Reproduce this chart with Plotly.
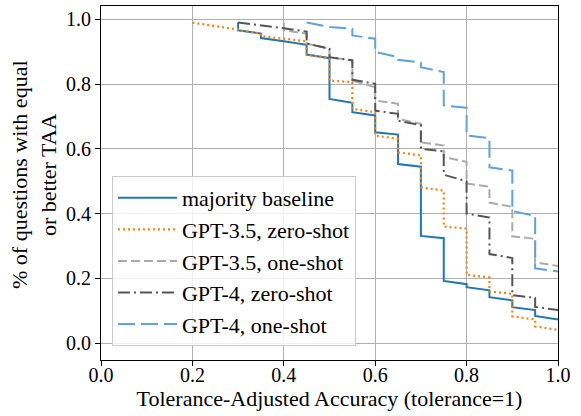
import plotly.graph_objects as go

# ---- data ----
series_names = ["majority baseline", "GPT-3.5, zero-shot", "GPT-3.5, one-shot",
                "GPT-4, zero-shot", "GPT-4, one-shot"]

# each series: TAA step positions, value arriving at the step, value after the drop
baseline_x = [0.3, 0.35, 0.4, 0.45, 0.5, 0.55, 0.6, 0.65, 0.7, 0.75, 0.8, 0.85, 0.9, 0.95, 1.0]
baseline_top = [0.99, 0.956, 0.932, 0.921, 0.880, 0.742, 0.703, 0.644, 0.545, 0.324, 0.182, 0.163, 0.132, 0.102, 0.073]
baseline_bot = [0.966, 0.942, 0.932, 0.891, 0.754, 0.713, 0.651, 0.553, 0.331, 0.192, 0.173, 0.142, 0.111, 0.084, 0.073]

gpt35_zero_x = [0.2, 0.25, 0.3, 0.35, 0.4, 0.45, 0.5, 0.55, 0.6, 0.65, 0.7, 0.75, 0.8, 0.85, 0.9, 0.95, 1.0]
gpt35_zero_top = [0.99, 0.98, 0.968, 0.956, 0.94, 0.932, 0.880, 0.806, 0.713, 0.631, 0.58, 0.471, 0.354, 0.203, 0.152, 0.073, 0.041]
gpt35_zero_bot = [0.99, 0.98, 0.966, 0.948, 0.94, 0.891, 0.811, 0.7235, 0.641, 0.589, 0.481, 0.36, 0.211, 0.16, 0.083, 0.052, 0.041]

gpt35_one_x = [0.4, 0.45, 0.5, 0.55, 0.6, 0.65, 0.7, 0.75, 0.8, 0.85, 0.9, 0.95, 1.0]
gpt35_one_top = [0.99, 0.955, 0.909, 0.873, 0.790, 0.739, 0.677, 0.61, 0.56, 0.483, 0.421, 0.322, 0.238]
gpt35_one_bot = [0.966, 0.925, 0.883, 0.811, 0.749, 0.6925, 0.62, 0.574, 0.493, 0.434, 0.33, 0.25, 0.238]

gpt4_zero_x = [0.3, 0.35, 0.4, 0.45, 0.5, 0.55, 0.6, 0.65, 0.7, 0.75, 0.8, 0.85, 0.9, 0.95, 1.0]
gpt4_zero_top = [0.99, 0.982, 0.972, 0.962, 0.909, 0.873, 0.801, 0.708, 0.673, 0.592, 0.50, 0.388, 0.263, 0.14, 0.102]
gpt4_zero_bot = [0.99, 0.982, 0.972, 0.925, 0.883, 0.813, 0.718, 0.687, 0.60, 0.52, 0.40, 0.275, 0.148, 0.112, 0.102]

gpt4_one_x = [0.45, 0.5, 0.55, 0.6, 0.65, 0.7, 0.75, 0.8, 0.85, 0.9, 0.95, 1.0]
gpt4_one_top = [0.99, 0.976, 0.971, 0.94, 0.883, 0.866, 0.837, 0.727, 0.633, 0.533, 0.393, 0.221]
gpt4_one_bot = [0.99, 0.976, 0.95, 0.899, 0.875, 0.852, 0.734, 0.641, 0.543, 0.408, 0.231, 0.221]

tick_vals = [0.0, 0.2, 0.4, 0.6, 0.8, 1.0]
tick_text = ["0.0", "0.2", "0.4", "0.6", "0.8", "1.0"]

x_title = "Tolerance-Adjusted Accuracy (tolerance=1)"
y_title = "% of questions with equal<br>or better TAA"

# ---- styles ----
styles = [
    dict(color="#1f77b4", width=2, dash="solid"),
    dict(color="#ff7f0e", width=2.2, dash="2px,3px"),
    dict(color="#aaaaaa", width=2, dash="9px,4px"),
    dict(color="#555555", width=2, dash="12px,4px,2px,4px"),
    dict(color="#5fa2dd", width=2, dash="17px,6px"),
]

def staircase(xs, top, bot):
    px, py = [], []
    for x, t, b in zip(xs, top, bot):
        px += [x, x]
        py += [t, b]
    return px, py

data = [
    (baseline_x, baseline_top, baseline_bot),
    (gpt35_zero_x, gpt35_zero_top, gpt35_zero_bot),
    (gpt35_one_x, gpt35_one_top, gpt35_one_bot),
    (gpt4_zero_x, gpt4_zero_top, gpt4_zero_bot),
    (gpt4_one_x, gpt4_one_top, gpt4_one_bot),
]

FONT = "Liberation Serif"

fig = go.Figure()
for i, (name, (xs, top, bot), st) in enumerate(zip(series_names, data, styles)):
    px, py = staircase(xs, top, bot)
    fig.add_trace(go.Scatter(x=px, y=py, mode="lines", name=name,
                             legendgroup=f"g{i}", line=st))

axis_common = dict(
    showline=True, mirror=True, linecolor="black", linewidth=1.2,
    showgrid=True, gridcolor="#b0b0b0", gridwidth=1,
    ticks="outside", ticklen=5, tickwidth=1.2, tickcolor="black",
    tickvals=tick_vals, ticktext=tick_text,
    tickfont=dict(family=FONT, size=20, color="black"),
    zeroline=False,
)

fig.update_layout(
    width=581, height=416,
    margin=dict(l=101, r=23, t=6, b=56),
    paper_bgcolor="white", plot_bgcolor="white",
    font=dict(family=FONT, color="black"),
    xaxis=dict(range=[0, 1], ticklabelstandoff=-8,
               title=dict(text=x_title, font=dict(family=FONT, size=22), standoff=2),
               **axis_common),
    yaxis=dict(range=[-0.052, 1.041], **axis_common),
    legend=dict(x=0.024, y=0.52, xanchor="left", yanchor="top",
                bgcolor="rgba(255,255,255,0.8)", bordercolor="#cccccc", borderwidth=1,
                font=dict(family=FONT, size=22, color="black"),
                itemwidth=59, tracegroupgap=3, traceorder="normal"),
    showlegend=True,
    annotations=[dict(text=y_title, textangle=-90, showarrow=False,
                      xref="paper", yref="paper", x=-0.1466, y=0.5226,
                      xanchor="center", yanchor="middle",
                      font=dict(family=FONT, size=22, color="black"))],
)

fig.write_html("out.html")
